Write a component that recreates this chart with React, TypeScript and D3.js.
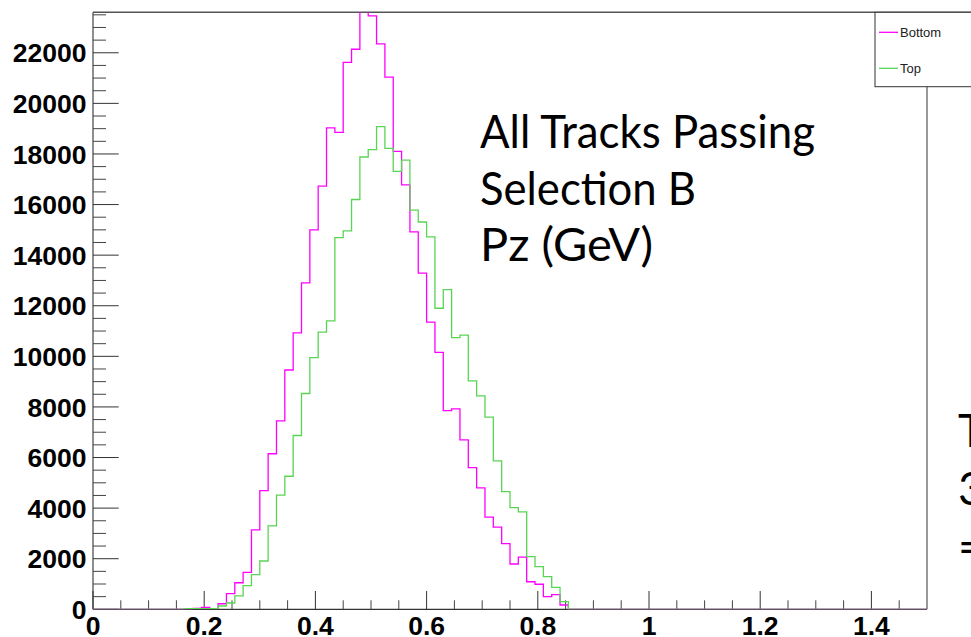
import React from 'react';
import * as d3 from 'd3';

// Histogram definition: 100 bins on [0, 1.5]
const nBins = 100;
const xLow = 0;
const xHigh = 1.5;
const firstFilledBin = 11;

// Bin contents starting at bin index 11 (Pz ≈ 0.165 GeV)
const bottomCounts = [
  0, 40, 80, 30, 220, 620, 1050, 1460, 3140, 4690,
  6150, 7450, 9460, 10930, 12900, 15000, 16730, 19030, 18850, 21620,
  22140, 23900, 23460, 22350, 21040, 18100, 16780, 14920, 13290, 11350,
  10160, 7850, 7920, 6700, 5600, 4800, 3640, 3250, 2600, 1790,
  2060, 1090, 990, 500, 580, 170,
];
const topCounts = [
  30, 25, 25, 25, 130, 250, 530, 935, 1370, 1910,
  3300, 4510, 5260, 6870, 8530, 9950, 10960, 11400, 14690, 14960,
  16200, 17880, 18170, 19080, 18220, 17310, 17760, 15780, 15310, 14720,
  11900, 12640, 10740, 10840, 9030, 8440, 7600, 5870, 4650, 4020,
  3850, 2080, 1690, 1290, 870, 300,
];

const xMajorTicks = [0, 0.2, 0.4, 0.6, 0.8, 1, 1.2, 1.4];
const xTickLabels = ['0', '0.2', '0.4', '0.6', '0.8', '1', '1.2', '1.4'];
const yMajorTicks = [0, 2000, 4000, 6000, 8000, 10000, 12000, 14000, 16000, 18000, 20000, 22000];
const yMax = 23600;

const seriesNames = ['Bottom', 'Top'];
const seriesColors = ['#ff00ff', '#59d454'];

const titleLines = ['All Tracks Passing', 'Selection B', 'Pz (GeV)'];
const sideLines = ['T', '3', '='];

const W = 971;
const H = 637;
const L = 93;
const R = 927;
const T = 12.3;
const B = 609.3;

function fullBins(part: number[]): number[] {
  const arr = new Array(nBins).fill(0);
  part.forEach((v, i) => { arr[firstFilledBin + i] = v; });
  return arr;
}

export default function App() {
  const x = d3.scaleLinear().domain([xLow, xHigh]).range([L, R]);
  const y = d3.scaleLinear().domain([0, yMax]).range([B, T]);
  const bw = (xHigh - xLow) / nBins;

  const stepPath = (counts: number[]) => {
    const pts: [number, number][] = [];
    counts.forEach((c, i) => {
      pts.push([x(xLow + i * bw), y(c)]);
      pts.push([x(xLow + (i + 1) * bw), y(c)]);
    });
    return d3.line()(pts) || '';
  };

  const series = [fullBins(bottomCounts), fullBins(topCounts)];

  const xMinor = d3.range(0, 30).filter(i => i % 4 !== 0).map(i => i * 0.05);
  const yMinor = d3.range(0, 48).filter(i => i % 4 !== 0).map(i => i * 500);

  const labelFont = "'Liberation Sans', Arial, sans-serif";
  const titleFont = "Lato, 'Open Sans', sans-serif";
  const titleWidths = [335, 216, 173];

  return (
    <svg width={W} height={H} style={{ position: 'absolute', left: 0, top: 0, background: '#fff' }}>
      <rect x={0} y={0} width={W} height={H} fill="#fff" />
      <defs>
        <clipPath id="frameClip">
          <rect x={L} y={T} width={R - L} height={B - T} />
        </clipPath>
      </defs>

      {/* frame */}
      <line x1={L} y1={T} x2={W} y2={T} stroke="#555" strokeWidth={1.5} />
      <line x1={R} y1={T} x2={R} y2={B} stroke="#777" strokeWidth={1.5} />
      <line x1={L} y1={T} x2={L} y2={B} stroke="#444" strokeWidth={1.2} />
      <line x1={L} y1={B} x2={R} y2={B} stroke="#000" strokeWidth={1} />

      {/* y ticks */}
      {yMajorTicks.map(v => (
        <line key={'ym' + v} x1={L} x2={L + 25.7} y1={y(v)} y2={y(v)} stroke="#333" strokeWidth={1} />
      ))}
      {yMinor.map(v => (
        <line key={'yn' + v} x1={L} x2={L + 13} y1={y(v)} y2={y(v)} stroke="#444" strokeWidth={1} />
      ))}
      {yMajorTicks.map(v => (
        <text key={'yl' + v} x={86.5} y={y(v) + 9.6} textAnchor="end" fontFamily={labelFont}
          fontWeight="bold" fontSize={26.5} fill="#000">{v}</text>
      ))}

      {/* x ticks */}
      {xMajorTicks.map(v => (
        <line key={'xm' + v} x1={x(v)} x2={x(v)} y1={B} y2={B - 18.3} stroke="#333" strokeWidth={1} />
      ))}
      {xMinor.map(v => (
        <line key={'xn' + v} x1={x(v)} x2={x(v)} y1={B} y2={B - 9} stroke="#444" strokeWidth={1} />
      ))}
      {xMajorTicks.map((v, i) => (
        <text key={'xl' + v} x={x(v)} y={635} textAnchor="middle" fontFamily={labelFont}
          fontWeight="bold" fontSize={26.5} fill="#000">{xTickLabels[i]}</text>
      ))}

      {/* histograms */}
      <g clipPath="url(#frameClip)">
        {series.map((s, i) => (
          <path key={'h' + i} d={stepPath(s)} fill="none" stroke={seriesColors[i]} strokeWidth={1.3} />
        ))}
      </g>

      {/* legend */}
      <rect x={875} y={T} width={130} height={86.7 - T} fill="#fff" stroke="#333" strokeWidth={1} />
      {seriesNames.map((n, i) => (
        <g key={'lg' + n}>
          <line x1={879} x2={898} y1={32.3 + i * 36} y2={32.3 + i * 36} stroke={seriesColors[i]} strokeWidth={1.3} />
          <text x={900} y={36.8 + i * 36} fontFamily={labelFont} fontSize={13} fill="#222">{n}</text>
        </g>
      ))}

      {/* annotation text */}
      {titleLines.map((t, i) => (
        <text key={'tt' + i} x={480} y={148.3 + i * 56.3} fontFamily={titleFont} fontSize={46}
          textLength={titleWidths[i]} lengthAdjust="spacingAndGlyphs" fill="#000">{t}</text>
      ))}
      {sideLines.map((t, i) => (
        <text key={'sd' + i} x={958} y={447 + i * 58} fontFamily={titleFont} fontSize={46} fill="#000">{t}</text>
      ))}
    </svg>
  );
}
